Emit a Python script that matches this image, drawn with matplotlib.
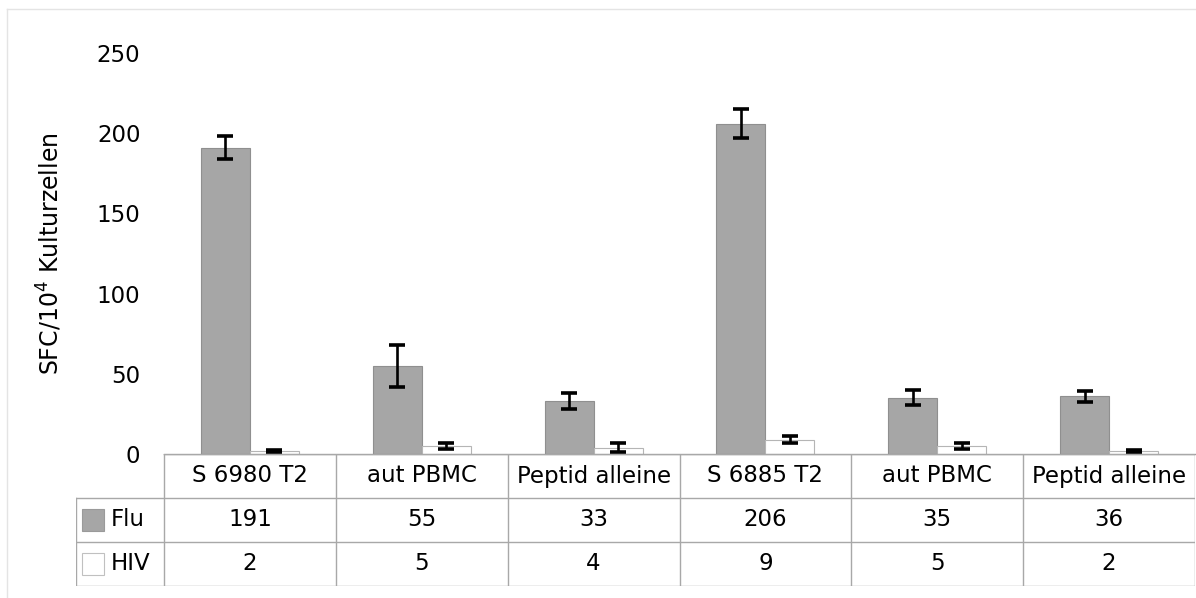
import numpy as np
import matplotlib
matplotlib.use('Agg')
import matplotlib.pyplot as plt
from matplotlib.patches import Rectangle
from matplotlib.lines import Line2D

plt.rcParams['font.family'] = ['DejaVu Sans']
plt.rcParams['mathtext.default'] = 'regular'

# data
categories = ['S 6980 T2', 'aut PBMC', 'Peptid alleine', 'S 6885 T2', 'aut PBMC', 'Peptid alleine']
flu = [191, 55, 33, 206, 35, 36]
hiv = [2, 5, 4, 9, 5, 2]
flu_err = [7, 13, 5, 9, 4.7, 3.5]
hiv_err = [0.5, 2, 2.7, 2, 2, 0.5]
series = ['Flu', 'HIV']
yticks = [0, 50, 100, 150, 200, 250]

W, H = 1196, 598
fig = plt.figure(figsize=(W / 100, H / 100), dpi=100)

# plot area in pixels
x0, x1 = 164, 1195
y_zero, y_top = 454, 53
ax = fig.add_axes([x0 / W, (H - y_zero) / H, (x1 - x0) / W, (y_zero - y_top) / H])

x = np.arange(len(categories))
bw = 0.285
ax.bar(x - bw / 2, flu, bw, color='#a6a6a6', edgecolor='#8f8f8f', linewidth=0.8, zorder=2)
ax.bar(x + bw / 2, hiv, bw, color='white', edgecolor='#b5b5b5', linewidth=0.8, zorder=2)
ax.errorbar(x - bw / 2, flu, yerr=flu_err, fmt='none', ecolor='black',
            elinewidth=1.9, capsize=5.5, capthick=2.6, zorder=3)
ax.errorbar(x + bw / 2, hiv, yerr=hiv_err, fmt='none', ecolor='black',
            elinewidth=1.9, capsize=5.5, capthick=2.6, zorder=3)

ax.set_xlim(-0.5, len(categories) - 0.5)
ax.set_ylim(0, 250)
ax.set_yticks(yticks)
ax.set_xticks([])
ax.tick_params(axis='y', length=0, pad=17, labelsize=16.5)
for s in ['top', 'right', 'left']:
    ax.spines[s].set_visible(False)
ax.spines['bottom'].set_color('#a0a0a0')
ax.spines['bottom'].set_linewidth(1.0)
ax.set_ylabel('SFC/10$^4$ Kulturzellen', fontsize=17)
ax.yaxis.set_label_coords(-0.097, 0.5)

# data table below the plot
t_left, t_bottom = 76, 586
grp = (x1 - x0) / len(categories)
legend_w = (x0 - t_left) / grp
tax = fig.add_axes([t_left / W, (H - t_bottom) / H, (x1 - t_left) / W, (t_bottom - y_zero) / H])
tax.set_xlim(-0.5 - legend_w, len(categories) - 0.5)
tax.set_ylim(0, 3)
tax.axis('off')

lc = '#a8a8a8'
lw = 1.0
n = len(categories)
tax.add_line(Line2D([-0.5, n - 0.5], [3, 3], color=lc, lw=lw))
for yy in [2, 1, 0]:
    tax.add_line(Line2D([-0.5 - legend_w, n - 0.5], [yy, yy], color=lc, lw=lw))
for i in range(n + 1):
    tax.add_line(Line2D([i - 0.5, i - 0.5], [0, 3], color=lc, lw=lw))
tax.add_line(Line2D([-0.5 - legend_w, -0.5 - legend_w], [0, 2], color=lc, lw=lw))

for i, c in enumerate(categories):
    tax.text(i, 2.5, c, ha='center', va='center', fontsize=16.5)
    tax.text(i, 1.5, str(flu[i]), ha='center', va='center', fontsize=16.5)
    tax.text(i, 0.5, str(hiv[i]), ha='center', va='center', fontsize=16.5)

sq_x = -0.5 - legend_w + 6 / grp
sq_w = 22 / grp
tax.add_patch(Rectangle((sq_x, 1.26), sq_w, 0.48, facecolor='#a6a6a6', edgecolor='#9a9a9a', lw=0.8))
tax.add_patch(Rectangle((sq_x, 0.26), sq_w, 0.48, facecolor='white', edgecolor='#c0c0c0', lw=0.8))
tax.text(-0.5 - legend_w + 35 / grp, 1.5, series[0], ha='left', va='center', fontsize=16.5)
tax.text(-0.5 - legend_w + 35 / grp, 0.5, series[1], ha='left', va='center', fontsize=16.5)

# light frame around the chart
fig.add_artist(Line2D([6.5 / W, 6.5 / W], [0, (H - 9) / H], color='#e4e4e4', lw=1))
fig.add_artist(Line2D([6.5 / W, 1], [(H - 9) / H, (H - 9) / H], color='#e4e4e4', lw=1))

fig.savefig('out.png', dpi=100)
